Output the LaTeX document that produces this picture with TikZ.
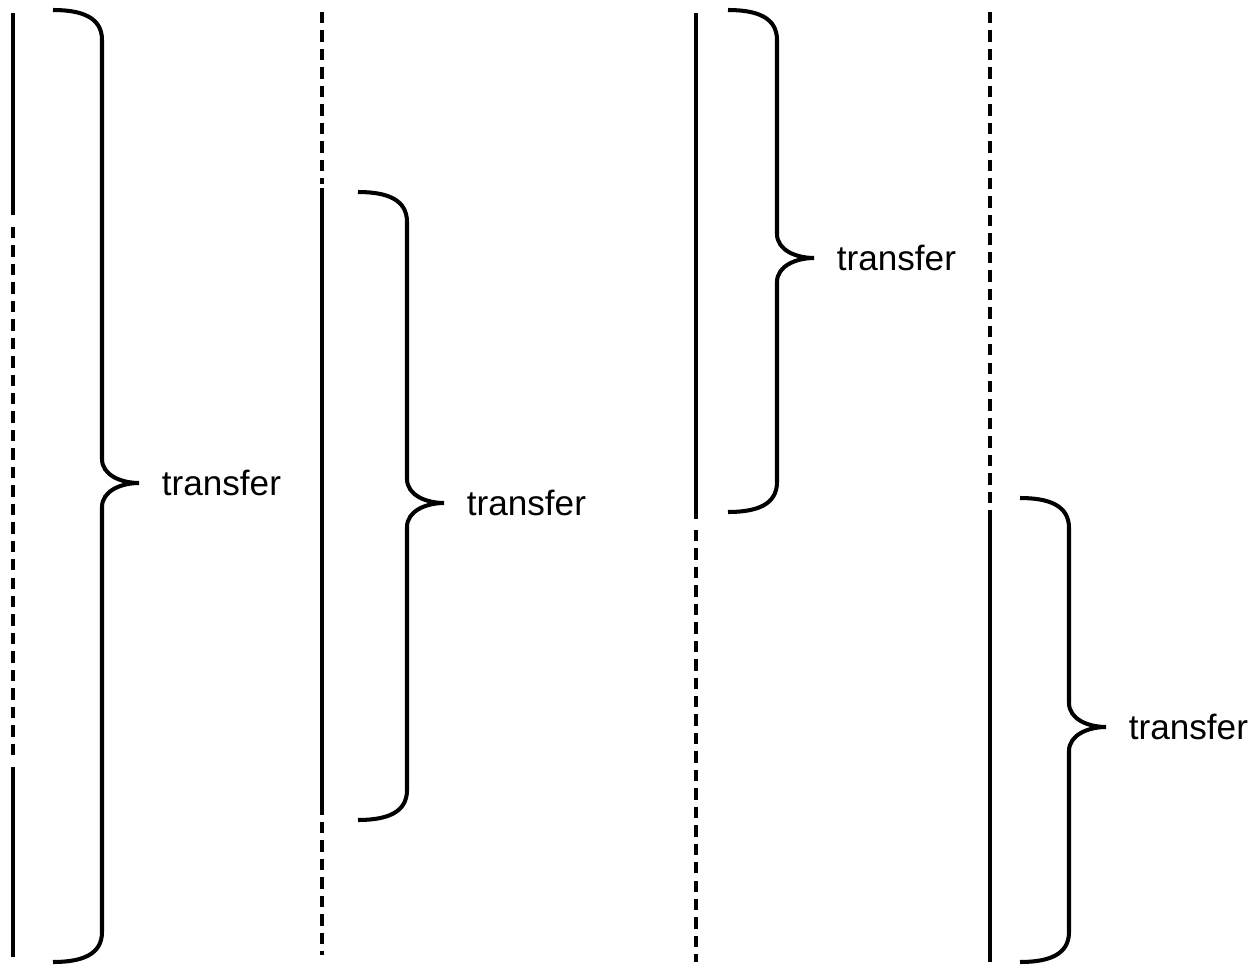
\documentclass[tikz,border=0pt]{standalone}
\usepackage{fontspec}
\setmainfont{Liberation Sans}
\usetikzlibrary{positioning}

\tikzset{
  wire/.style={line width=2.2pt},
  gapwire/.style={line width=2.2pt,dash pattern=on 6.5pt off 4pt},
  bracket/.style={line width=2.3pt},
  lbl/.style={font=\fontsize{20}{24}\selectfont,inner sep=0pt}
}

\begin{document}
\begin{tikzpicture}[x=0.02cm,y=-0.02cm]
  \useasboundingbox (0,0) rectangle (1258,967);

  % time lines: solid while sending, dashed while idle
  \draw[wire]    (13,13)  -- (13,215);
  \draw[gapwire] (13,227) -- (13,758);
  \draw[wire]    (13,767) -- (13,957);

  \draw[gapwire] (322,12)  -- (322,184);
  \draw[wire]    (322,188) -- (322,815);
  \draw[gapwire] (322,822) -- (322,955);

  \draw[wire]    (696,13)  -- (696,519);
  \draw[gapwire] (696,530) -- (696,962);

  \draw[gapwire] (990,12)  -- (990,503);
  \draw[wire]    (990,510) -- (990,962);

  % braces with their labels
  \foreach \x/\t/\b/\n in {53/10/962/a, 358/192/820/b, 728/10/512/c, 1020/498/962/d}{
    \pgfmathsetmacro\m{(\t+\b)/2-3}
    \draw[bracket] (\x,\t) .. controls (\x+30,\t) and (\x+49,\t+8) .. (\x+49,\t+30)
      -- (\x+49,\m-24) .. controls (\x+49,\m-8) and (\x+68,\m) .. (\x+86,\m) coordinate (tip-\n)
      .. controls (\x+68,\m) and (\x+49,\m+8) .. (\x+49,\m+24)
      -- (\x+49,\b-30) .. controls (\x+49,\b-8) and (\x+30,\b) .. (\x,\b);
    \node[lbl,right=0.45cm of tip-\n] (lbl-\n) {transfer};
  }
\end{tikzpicture}
\end{document}
